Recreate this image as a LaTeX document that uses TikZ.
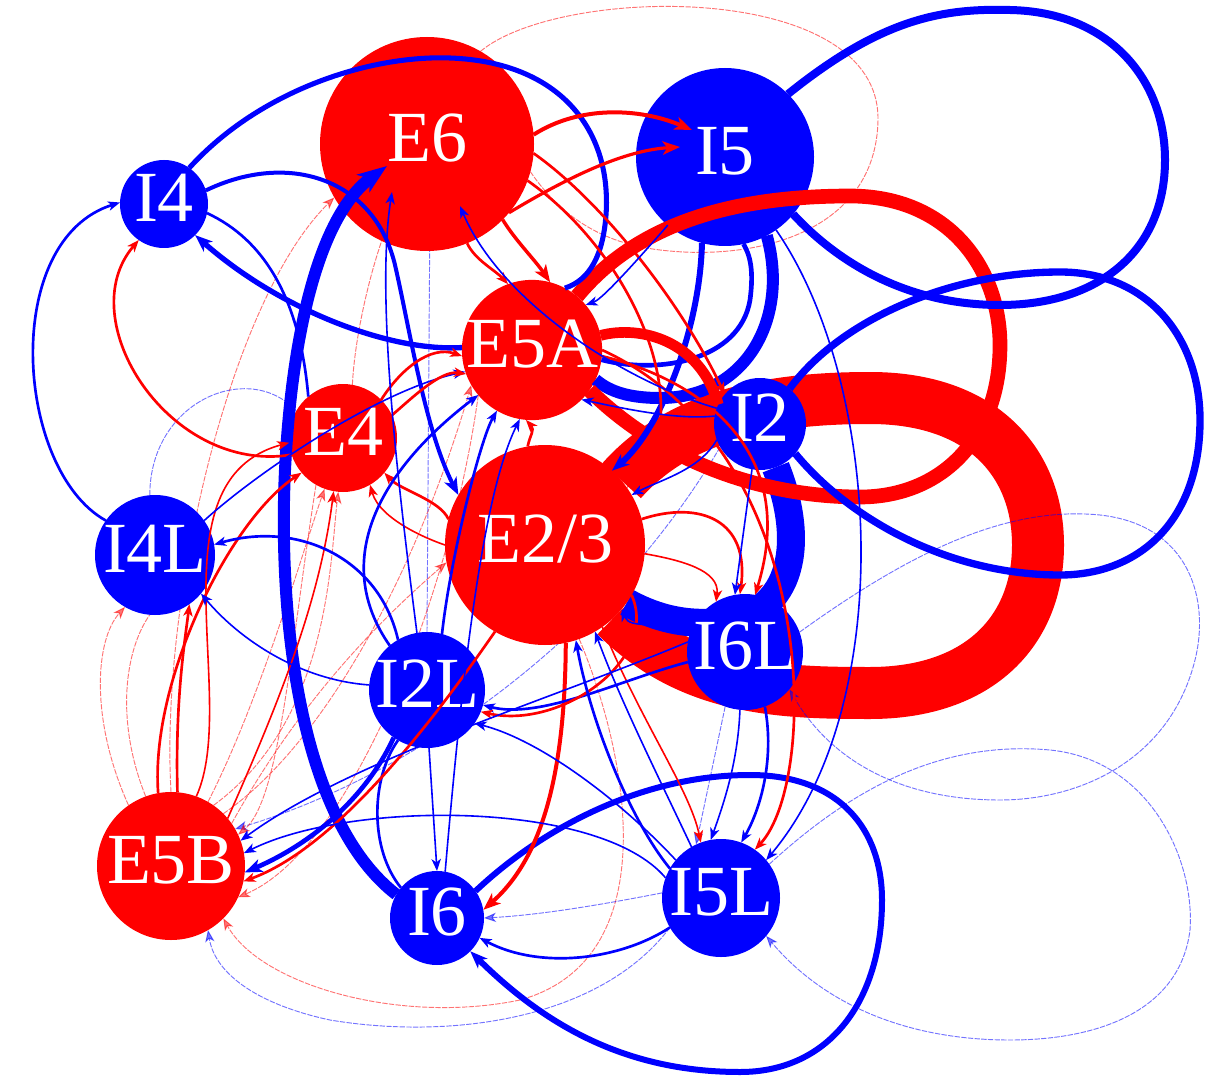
\documentclass[tikz,border=0pt]{standalone}
\usepackage{fontspec}
\setmainfont{Liberation Serif}
\usetikzlibrary{arrows.meta}
\pgfdeclarelayer{bg}
\pgfsetlayers{bg,main}
\begin{document}
\begin{tikzpicture}[x=0.75pt,y=-0.75pt,
  nd/.style={circle,inner sep=0pt,outer sep=0pt,text=white,font=\fontsize{54}{54}\selectfont,text height=31pt,text depth=5pt},
  exc/.style={nd,fill=red},
  inh/.style={nd,fill=blue},
  tA/.style={-{Stealth[length=9pt,width=7pt,inset=2.5pt]}},
  tB/.style={-{Stealth[length=13pt,width=10pt,inset=3.5pt]}},
  tC/.style={-{Stealth[length=22pt,width=16pt,inset=6pt]}},
  bf/.style={draw=blue,line width=0.7pt,opacity=0.55,dash pattern=on 4pt off 1pt},
  rf/.style={draw=red,line width=0.7pt,opacity=0.55,dash pattern=on 4pt off 1pt},
  b1/.style={draw=blue,line width=1.2pt},
  r1/.style={draw=red,line width=1.2pt},
  b2/.style={draw=blue,line width=2pt},
  r2/.style={draw=red,line width=2pt},
  b3/.style={draw=blue,line width=3.5pt},
  r3/.style={draw=red,line width=3.5pt},
]
\useasboundingbox (0,0) rectangle (1209,1080);

% nodes
\node[exc,minimum size=160.5pt] (E6)  at (427,144) {E6};
\node[inh,minimum size=133.5pt] (I5)  at (725,157) {I5};
\node[inh,minimum size=66pt]    (I4)  at (164,204) {I4};
\node[exc,minimum size=102pt]   (E5A) at (532,350) {E5A};
\node[exc,minimum size=81pt]    (E4)  at (343,438) {E4};
\node[inh,minimum size=69pt]    (I2)  at (760,424) {I2};
\node[inh,minimum size=90pt]    (I4L) at (155,555) {I4L};
\node[exc,minimum size=150pt]   (E23) at (545,545) {E2/3};
\node[inh,minimum size=87pt]    (I6L) at (745,652) {I6L};
\node[inh,minimum size=87pt]    (I2L) at (427,690) {I2L};
\node[exc,minimum size=111pt]   (E5B) at (171,866) {E5B};
\node[inh,minimum size=70.5pt]  (I6)  at (437,918) {I6};
\node[inh,minimum size=88.5pt]  (I5L) at (721,898) {I5L};

\begin{pgfonlayer}{bg}
% big E2/3 loop
\draw[red,line width=39pt] (E23.40) .. controls (680,415) and (770,398) .. (870,398) .. controls (985,398) and (1038,465) .. (1038,545) .. controls (1038,630) and (980,693) .. (870,693) .. controls (780,693) and (690,690) .. (E23.-45);
% thick I2 -> E2/3
\draw[blue,line width=21pt] (I2.-70) .. controls (805,540) and (795,615) .. (720,622) .. controls (680,626) and (650,615) .. (E23.-35);
% faint loops right
\draw[bf,tA] (I6L.20) .. controls (900,560) and (1000,505) .. (1100,515) .. controls (1190,525) and (1210,600) .. (1195,660) .. controls (1170,760) and (1080,800) .. (1000,800) .. controls (900,800) and (830,760) .. (I6L.-40);
\draw[bf,tA] (I5L.35) .. controls (850,790) and (940,740) .. (1050,750) .. controls (1150,760) and (1195,860) .. (1190,930) .. controls (1180,1010) and (1100,1040) .. (1010,1040) .. controls (900,1040) and (820,1000) .. (I5L.-40);
% faint red around I5
\draw[rf] (E6.60) .. controls (560,-15) and (880,-20) .. (878,120) .. controls (876,230) and (760,262) .. (660,250) .. controls (600,243) and (560,215) .. (E6.-15);
% faint bottom arcs
\draw[bf,tA] (I5L.-150) .. controls (600,1020) and (450,1040) .. (330,1020) .. controls (260,1005) and (215,975) .. (E5B.-60);
\draw[rf,tA] (E23.-70) .. controls (630,760) and (665,960) .. (520,1000) .. controls (400,1025) and (260,985) .. (E5B.-45);
% faint left
\draw[rf,tA] (E5B.125) .. controls (90,720) and (95,640) .. (I4L.-120);
\draw[rf] (E5B.110) .. controls (115,720) and (125,650) .. (I4L.-95);
\draw[rf,tA] (E5B.90) .. controls (160,600) and (230,300) .. (E6.-150);
\draw[rf,tA] (E5B.60) .. controls (260,700) and (300,560) .. (E4.-110);
\draw[rf,tA] (E5B.45) .. controls (330,740) and (420,560) .. (E5A.-150);
\draw[rf,tA] (E5B.55) .. controls (330,720) and (330,560) .. (E4.-95);
\draw[rf,tA] (E5B.35) .. controls (300,700) and (380,620) .. (E23.-170);
\draw[bf] (I4L.95) .. controls (150,400) and (250,360) .. (E4.150);
\draw[bf,tA] (I2L.90) -- ([shift={(3,56)}]E6.center);
\draw[bf,tA] (I2.-150) .. controls (600,650) and (400,780) .. (E5B.30);
\draw[rf,tA] (E4.-120) .. controls (290,650) and (280,800) .. (E5B.25);
\draw[rf,tA] (E5A.-140) .. controls (450,600) and (350,850) .. (E5B.-25);
\draw[rf,tA] (E4.80) .. controls (355,330) and (375,250) .. ([shift={(-30,60)}]E6.center);
\draw[bf,tA] (I6L.-110) -- (I5L.115);
\draw[bf,tA] (I5L.175) .. controls (600,905) and (540,915) .. (I6.0);
\end{pgfonlayer}

% thick I6 -> E6
\draw[blue,line width=9pt,tC] (I6.150) .. controls (300,820) and (278,620) .. (285,470) .. controls (292,330) and (320,215) .. ([shift={(-40,22)}]E6.center);
% I5 <-> E5A
\draw[blue,line width=9pt] (I5.-62) .. controls (790,320) and (745,398) .. (660,398) .. controls (630,398) and (610,392) .. (E5A.-25);
\draw[b3] (E5A.-8) .. controls (660,375) and (740,360) .. (750,300) .. controls (754,270) and (750,255) .. (I5.-78);
% E5A loop
\draw[red,line width=11pt] (E5A.50) .. controls (640,220) and (740,196) .. (850,196) .. controls (950,196) and (1000,270) .. (1000,345) .. controls (1000,440) and (940,497) .. (860,497) .. controls (760,497) and (660,460) .. (E5A.-35);
% I5 loop
\draw[blue,line width=6pt] (I5.45) .. controls (880,20) and (940,8) .. (1010,10) .. controls (1110,12) and (1165,80) .. (1165,160) .. controls (1165,250) and (1100,305) .. (1000,305) .. controls (910,305) and (840,265) .. (I5.-40);
% I2 loop
\draw[blue,line width=5.5pt] (I2.50) .. controls (840,320) and (950,272) .. (1060,272) .. controls (1150,272) and (1200,340) .. (1200,420) .. controls (1200,520) and (1140,575) .. (1060,575) .. controls (950,575) and (850,520) .. (I2.-40);
% I6 loop
\draw[blue,line width=4.5pt,tB] (I6.35) .. controls (540,830) and (640,775) .. (750,775) .. controls (840,775) and (882,830) .. (882,900) .. controls (882,1000) and (830,1072) .. (740,1072) .. controls (620,1072) and (540,1020) .. (I6.-45);
% I5 -> E2/3
\draw[blue,line width=4.5pt,tB] (I5.-105) .. controls (700,330) and (660,430) .. (E23.48);
% I4 edges
\draw[blue,line width=3.8pt] (I4.55) .. controls (260,90) and (370,55) .. (450,58) .. controls (560,62) and (612,130) .. (606,215) .. controls (603,255) and (590,280) .. (E5A.62);
\draw[blue,line width=4pt,tB] (E5A.178) .. controls (390,352) and (280,310) .. (I4.-45);
\draw[blue,line width=3pt,tB] (I4.18) .. controls (290,150) and (375,180) .. (395,265) .. controls (410,330) and (425,430) .. (E23.150);
\draw[b2] (I4.-12) .. controls (265,240) and (300,300) .. (E4.130);
\draw[b2,tA] (I4L.145) .. controls (15,470) and (0,240) .. (I4.178);
\draw[r2,tA] (E4.198) .. controls (170,475) and (70,320) .. (I4.-125);
% into I5
\draw[red,line width=3pt,tB] (E6.5) .. controls (580,105) and (640,108) .. ([shift={(-33,-27)}]I5.center);
\draw[red,line width=2.4pt,tB] (E6.-40) .. controls (580,170) and (630,150) .. ([shift={(-45,-10)}]I5.center);
% E6 -> E5A etc
\draw[red,line width=2.6pt,tB] (E6.-45) .. controls (515,240) and (535,260) .. (E5A.75);
\draw[r2,tA] (E6.-68) .. controls (475,260) and (495,270) .. (E5A.110);
\draw[r2,tA] (E6.-5) .. controls (600,200) and (680,300) .. (I2.140);
\draw[red,line width=8pt] (E5A.12) .. controls (640,325) and (700,340) .. (I2.155);
\draw[r2,tA] (E5A.-5) .. controls (700,380) and (800,450) .. (I6L.80);
\draw[r2,tA] (E23.15) .. controls (700,500) and (750,520) .. (I6L.95);
\draw[r2,tA] (E5A.0) .. controls (820,450) and (820,780) .. (I5L.55);
\draw[r1,tA] (E23.-55) .. controls (640,720) and (690,790) .. (I5L.110);
\draw[red,line width=3pt,tB] (E23.-78) .. controls (565,780) and (540,860) .. (I6.10);
\draw[r2,tA] (E6.-20) .. controls (640,260) and (700,420) .. (E23.35);
\draw[r1,tA] (E23.-5) .. controls (680,560) and (720,570) .. (I6L.120);
% I6L / I5L
\draw[b1,tA] (I6L.-95) .. controls (738,760) and (725,800) .. (I5L.100);
\draw[b2,tA] (I6L.-70) .. controls (775,760) and (760,810) .. (I5L.70);
\draw[b1,tA] (I5.-55) .. controls (880,380) and (900,700) .. (I5L.40);
\draw[b2,tA] (I5L.-150) .. controls (620,960) and (540,970) .. (I6.-25);
\draw[b1,tA] (I5L.140) .. controls (620,800) and (540,740) .. (I2L.-35);
\draw[b2,tA] (I6L.190) .. controls (620,680) and (540,720) .. (I2L.-15);
\draw[r2,tA] (E23.-30) .. controls (660,660) and (560,730) .. (I2L.-22);
\draw[b1,tA] (I2L.-88) -- (I6.90);
\draw[b2] (I6.140) .. controls (370,850) and (370,780) .. (I2L.-120);
\draw[b1,tA] (I5L.120) .. controls (660,780) and (620,700) .. (E23.-60);
\draw[b2,tA] (I5L.150) .. controls (630,820) and (590,720) .. (E23.-72);
\draw[b1,tA] (I6L.160) .. controls (660,620) and (630,630) .. (E23.-40);
\draw[b1,tA] (I2.-100) -- (I6L.100);
% into E5B
\draw[blue,line width=3.5pt,tB] (I2L.-125) .. controls (370,790) and (320,840) .. (E5B.-5);
\draw[r2,tA] (E23.-120) .. controls (420,740) and (330,850) .. (E5B.-12);
\draw[b1,tA] (I6L.170) .. controls (550,700) and (350,760) .. (E5B.20);
\draw[b1,tA] (I5L.160) .. controls (600,800) and (350,800) .. (E5B.10);
% E5B upward
\draw[r2,tA] (E5B.100) .. controls (150,680) and (230,520) .. (E4.-140);
\draw[r2,tA] (E5B.85) .. controls (175,700) and (185,640) .. (I4L.-55);
\draw[r1,tA] (E5B.70) .. controls (240,700) and (150,480) .. (E4.185);
\draw[r1,tA] (E5B.40) .. controls (280,700) and (320,600) .. (E4.-100);
% I4L
\draw[b1,tA] (I2L.175) .. controls (300,680) and (240,640) .. (I4L.-40);
\draw[b2,tA] (I2L.120) .. controls (380,560) and (300,520) .. (I4L.10);
\draw[b1,tA] (I4L.35) .. controls (260,470) and (380,390) .. (E5A.198);
% centre
\draw[r2,tA] (E4.45) .. controls (400,370) and (430,345) .. (E5A.185);
\draw[r2,tA] (E4.25) .. controls (410,400) and (440,370) .. (E5A.200);
\draw[r2,tA] (E23.165) .. controls (440,500) and (400,490) .. (E4.-40);
\draw[r1,tA] (E23.180) .. controls (430,540) and (380,520) .. (E4.-60);
\draw[r2,tA] (E23.100) .. controls (530,435) and (535,430) .. (E5A.-95);
\draw[b2,tA] (I2L.75) .. controls (450,560) and (480,440) .. (E5A.-120);
\draw[b1,tA] (I6.80) .. controls (460,700) and (480,500) .. (E5A.-100);
\draw[b2,tA] (I2L.130) .. controls (330,560) and (380,470) .. (E5A.-140);
\draw[b1,tA] (I2L.100) .. controls (400,500) and (375,300) .. ([shift={(-35,48)}]E6.center);
\draw[b1,tA] (I2.160) .. controls (620,380) and (500,300) .. ([shift={(33,62)}]E6.center);
\draw[b1,tA] (I2.170) .. controls (680,420) and (630,410) .. (E5A.-45);
\draw[b1,tA] (I2.-160) .. controls (700,470) and (660,480) .. (E23.30);
\draw[b1,tA] (I5.-130) .. controls (620,280) and (600,300) .. (E5A.40);
\end{tikzpicture}
\end{document}
